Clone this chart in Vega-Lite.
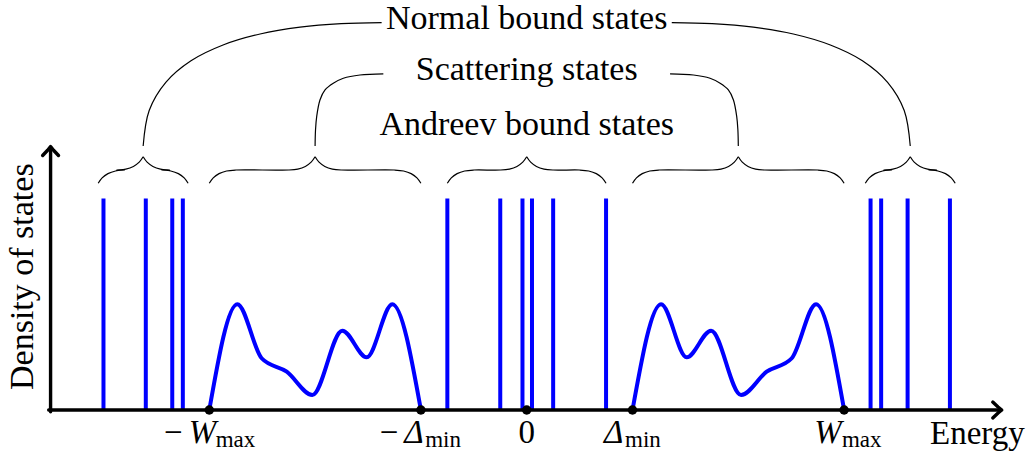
{
  "$schema": "https://vega.github.io/schema/vega-lite/v6.json",
  "width": 1026,
  "height": 454,
  "autosize": {"type": "fit", "contains": "padding"},
  "padding": 0,
  "background": "white",
  "config": {"view": {"stroke": null}, "font": "Liberation Serif"},
  "datasets": {
    "bound": [
      {"E": -4, "D": 2}, {"E": -3.6, "D": 2}, {"E": -3.35, "D": 2}, {"E": -3.25, "D": 2},
      {"E": -0.75, "D": 2}, {"E": -0.25, "D": 2}, {"E": -0.04, "D": 2}, {"E": 0.05, "D": 2},
      {"E": 0.25, "D": 2}, {"E": 0.75, "D": 2},
      {"E": 3.25, "D": 2}, {"E": 3.35, "D": 2}, {"E": 3.6, "D": 2}, {"E": 4, "D": 2}
    ],
    "continuum": [
      {"band": "hole", "E": -3, "D": 0},
      {"band": "hole", "E": -2.735, "D": 1.0},
      {"band": "hole", "E": -2.505, "D": 0.489},
      {"band": "hole", "E": -2.268, "D": 0.362},
      {"band": "hole", "E": -2.026, "D": 0.142},
      {"band": "hole", "E": -1.743, "D": 0.75},
      {"band": "hole", "E": -1.512, "D": 0.498},
      {"band": "hole", "E": -1.27, "D": 1.0},
      {"band": "hole", "E": -1, "D": 0},
      {"band": "particle", "E": 1, "D": 0},
      {"band": "particle", "E": 1.27, "D": 1.0},
      {"band": "particle", "E": 1.512, "D": 0.498},
      {"band": "particle", "E": 1.743, "D": 0.75},
      {"band": "particle", "E": 2.026, "D": 0.142},
      {"band": "particle", "E": 2.268, "D": 0.362},
      {"band": "particle", "E": 2.505, "D": 0.489},
      {"band": "particle", "E": 2.735, "D": 1.0},
      {"band": "particle", "E": 3, "D": 0}
    ],
    "edges": [
      {"E": -3, "D": 0}, {"E": -1, "D": 0}, {"E": 0, "D": 0}, {"E": 1, "D": 0}, {"E": 3, "D": 0}
    ],
    "frame": [
      {"g": "xaxis", "k": 1, "E": -4.518, "D": 0},
      {"g": "xaxis", "k": 2, "E": 4.48, "D": 0},
      {"g": "yaxis", "k": 1, "E": -4.5, "D": -0.017},
      {"g": "yaxis", "k": 2, "E": -4.5, "D": 2.48},
      {"g": "xhead", "k": 1, "E": 4.405, "D": 0.075},
      {"g": "xhead", "k": 2, "E": 4.455, "D": 0.028},
      {"g": "xhead", "k": 3, "E": 4.49, "D": 0},
      {"g": "xhead", "k": 4, "E": 4.455, "D": -0.028},
      {"g": "xhead", "k": 5, "E": 4.405, "D": -0.075},
      {"g": "yhead", "k": 1, "E": -4.575, "D": 2.405},
      {"g": "yhead", "k": 2, "E": -4.528, "D": 2.455},
      {"g": "yhead", "k": 3, "E": -4.5, "D": 2.49},
      {"g": "yhead", "k": 4, "E": -4.472, "D": 2.455},
      {"g": "yhead", "k": 5, "E": -4.425, "D": 2.405}
    ],
    "braces": [
      {"g": "b1l", "k": 1, "E": -4.05, "D": 2.143},
      {"g": "b1l", "k": 2, "E": -4.0127, "D": 2.194},
      {"g": "b1l", "k": 3, "E": -3.9578, "D": 2.234},
      {"g": "b1l", "k": 4, "E": -3.8865, "D": 2.259},
      {"g": "b1l", "k": 5, "E": -3.8, "D": 2.268},
      {"g": "b1l", "k": 6, "E": -3.875, "D": 2.268},
      {"g": "b1l", "k": 7, "E": -3.7885, "D": 2.277},
      {"g": "b1l", "k": 8, "E": -3.7172, "D": 2.302},
      {"g": "b1l", "k": 9, "E": -3.6623, "D": 2.342},
      {"g": "b1l", "k": 10, "E": -3.625, "D": 2.393},
      {"g": "b1r", "k": 1, "E": -3.625, "D": 2.393},
      {"g": "b1r", "k": 2, "E": -3.5877, "D": 2.342},
      {"g": "b1r", "k": 3, "E": -3.5328, "D": 2.302},
      {"g": "b1r", "k": 4, "E": -3.4615, "D": 2.277},
      {"g": "b1r", "k": 5, "E": -3.375, "D": 2.268},
      {"g": "b1r", "k": 6, "E": -3.45, "D": 2.268},
      {"g": "b1r", "k": 7, "E": -3.3635, "D": 2.259},
      {"g": "b1r", "k": 8, "E": -3.2922, "D": 2.234},
      {"g": "b1r", "k": 9, "E": -3.2373, "D": 2.194},
      {"g": "b1r", "k": 10, "E": -3.2, "D": 2.143},

      {"g": "b2l", "k": 1, "E": -3, "D": 2.143},
      {"g": "b2l", "k": 2, "E": -2.9627, "D": 2.194},
      {"g": "b2l", "k": 3, "E": -2.9078, "D": 2.234},
      {"g": "b2l", "k": 4, "E": -2.8365, "D": 2.259},
      {"g": "b2l", "k": 5, "E": -2.75, "D": 2.268},
      {"g": "b2l", "k": 6, "E": -2.25, "D": 2.268},
      {"g": "b2l", "k": 7, "E": -2.1635, "D": 2.277},
      {"g": "b2l", "k": 8, "E": -2.0922, "D": 2.302},
      {"g": "b2l", "k": 9, "E": -2.0373, "D": 2.342},
      {"g": "b2l", "k": 10, "E": -2, "D": 2.393},
      {"g": "b2r", "k": 1, "E": -2, "D": 2.393},
      {"g": "b2r", "k": 2, "E": -1.9627, "D": 2.342},
      {"g": "b2r", "k": 3, "E": -1.9078, "D": 2.302},
      {"g": "b2r", "k": 4, "E": -1.8365, "D": 2.277},
      {"g": "b2r", "k": 5, "E": -1.75, "D": 2.268},
      {"g": "b2r", "k": 6, "E": -1.25, "D": 2.268},
      {"g": "b2r", "k": 7, "E": -1.1635, "D": 2.259},
      {"g": "b2r", "k": 8, "E": -1.0922, "D": 2.234},
      {"g": "b2r", "k": 9, "E": -1.0373, "D": 2.194},
      {"g": "b2r", "k": 10, "E": -1, "D": 2.143},

      {"g": "b3l", "k": 1, "E": -0.75, "D": 2.143},
      {"g": "b3l", "k": 2, "E": -0.7127, "D": 2.194},
      {"g": "b3l", "k": 3, "E": -0.6578, "D": 2.234},
      {"g": "b3l", "k": 4, "E": -0.5865, "D": 2.259},
      {"g": "b3l", "k": 5, "E": -0.5, "D": 2.268},
      {"g": "b3l", "k": 6, "E": -0.25, "D": 2.268},
      {"g": "b3l", "k": 7, "E": -0.1635, "D": 2.277},
      {"g": "b3l", "k": 8, "E": -0.0922, "D": 2.302},
      {"g": "b3l", "k": 9, "E": -0.0373, "D": 2.342},
      {"g": "b3l", "k": 10, "E": 0, "D": 2.393},
      {"g": "b3r", "k": 1, "E": 0, "D": 2.393},
      {"g": "b3r", "k": 2, "E": 0.0373, "D": 2.342},
      {"g": "b3r", "k": 3, "E": 0.0922, "D": 2.302},
      {"g": "b3r", "k": 4, "E": 0.1635, "D": 2.277},
      {"g": "b3r", "k": 5, "E": 0.25, "D": 2.268},
      {"g": "b3r", "k": 6, "E": 0.5, "D": 2.268},
      {"g": "b3r", "k": 7, "E": 0.5865, "D": 2.259},
      {"g": "b3r", "k": 8, "E": 0.6578, "D": 2.234},
      {"g": "b3r", "k": 9, "E": 0.7127, "D": 2.194},
      {"g": "b3r", "k": 10, "E": 0.75, "D": 2.143},

      {"g": "b4l", "k": 1, "E": 1, "D": 2.143},
      {"g": "b4l", "k": 2, "E": 1.0373, "D": 2.194},
      {"g": "b4l", "k": 3, "E": 1.0922, "D": 2.234},
      {"g": "b4l", "k": 4, "E": 1.1635, "D": 2.259},
      {"g": "b4l", "k": 5, "E": 1.25, "D": 2.268},
      {"g": "b4l", "k": 6, "E": 1.75, "D": 2.268},
      {"g": "b4l", "k": 7, "E": 1.8365, "D": 2.277},
      {"g": "b4l", "k": 8, "E": 1.9078, "D": 2.302},
      {"g": "b4l", "k": 9, "E": 1.9627, "D": 2.342},
      {"g": "b4l", "k": 10, "E": 2, "D": 2.393},
      {"g": "b4r", "k": 1, "E": 2, "D": 2.393},
      {"g": "b4r", "k": 2, "E": 2.0373, "D": 2.342},
      {"g": "b4r", "k": 3, "E": 2.0922, "D": 2.302},
      {"g": "b4r", "k": 4, "E": 2.1635, "D": 2.277},
      {"g": "b4r", "k": 5, "E": 2.25, "D": 2.268},
      {"g": "b4r", "k": 6, "E": 2.75, "D": 2.268},
      {"g": "b4r", "k": 7, "E": 2.8365, "D": 2.259},
      {"g": "b4r", "k": 8, "E": 2.9078, "D": 2.234},
      {"g": "b4r", "k": 9, "E": 2.9627, "D": 2.194},
      {"g": "b4r", "k": 10, "E": 3, "D": 2.143},

      {"g": "b5l", "k": 1, "E": 3.2, "D": 2.143},
      {"g": "b5l", "k": 2, "E": 3.2373, "D": 2.194},
      {"g": "b5l", "k": 3, "E": 3.2922, "D": 2.234},
      {"g": "b5l", "k": 4, "E": 3.3635, "D": 2.259},
      {"g": "b5l", "k": 5, "E": 3.45, "D": 2.268},
      {"g": "b5l", "k": 6, "E": 3.375, "D": 2.268},
      {"g": "b5l", "k": 7, "E": 3.4615, "D": 2.277},
      {"g": "b5l", "k": 8, "E": 3.5328, "D": 2.302},
      {"g": "b5l", "k": 9, "E": 3.5877, "D": 2.342},
      {"g": "b5l", "k": 10, "E": 3.625, "D": 2.393},
      {"g": "b5r", "k": 1, "E": 3.625, "D": 2.393},
      {"g": "b5r", "k": 2, "E": 3.6623, "D": 2.342},
      {"g": "b5r", "k": 3, "E": 3.7172, "D": 2.302},
      {"g": "b5r", "k": 4, "E": 3.7885, "D": 2.277},
      {"g": "b5r", "k": 5, "E": 3.875, "D": 2.268},
      {"g": "b5r", "k": 6, "E": 3.8, "D": 2.268},
      {"g": "b5r", "k": 7, "E": 3.8865, "D": 2.259},
      {"g": "b5r", "k": 8, "E": 3.9578, "D": 2.234},
      {"g": "b5r", "k": 9, "E": 4.0127, "D": 2.194},
      {"g": "b5r", "k": 10, "E": 4.05, "D": 2.143},

      {"g": "nL", "k": 1, "E": -3.625, "D": 2.495},
      {"g": "nL", "k": 2, "E": -3.568, "D": 2.831},
      {"g": "nL", "k": 3, "E": -3.411, "D": 3.097},
      {"g": "nL", "k": 4, "E": -3.173, "D": 3.301},
      {"g": "nL", "k": 5, "E": -2.87, "D": 3.45},
      {"g": "nL", "k": 6, "E": -2.52, "D": 3.554},
      {"g": "nL", "k": 7, "E": -2.142, "D": 3.618},
      {"g": "nL", "k": 8, "E": -1.753, "D": 3.651},
      {"g": "nL", "k": 9, "E": -1.371, "D": 3.661},
      {"g": "nR", "k": 1, "E": 1.371, "D": 3.661},
      {"g": "nR", "k": 2, "E": 1.753, "D": 3.651},
      {"g": "nR", "k": 3, "E": 2.142, "D": 3.618},
      {"g": "nR", "k": 4, "E": 2.52, "D": 3.554},
      {"g": "nR", "k": 5, "E": 2.87, "D": 3.45},
      {"g": "nR", "k": 6, "E": 3.173, "D": 3.301},
      {"g": "nR", "k": 7, "E": 3.411, "D": 3.097},
      {"g": "nR", "k": 8, "E": 3.568, "D": 2.831},
      {"g": "nR", "k": 9, "E": 3.625, "D": 2.495},
      {"g": "sL", "k": 1, "E": -2.0, "D": 2.495},
      {"g": "sL", "k": 2, "E": -1.996, "D": 2.647},
      {"g": "sL", "k": 3, "E": -1.985, "D": 2.772},
      {"g": "sL", "k": 4, "E": -1.954, "D": 2.93},
      {"g": "sL", "k": 5, "E": -1.906, "D": 3.025},
      {"g": "sL", "k": 6, "E": -1.828, "D": 3.088},
      {"g": "sL", "k": 7, "E": -1.733, "D": 3.135},
      {"g": "sL", "k": 8, "E": -1.576, "D": 3.166},
      {"g": "sL", "k": 9, "E": -1.355, "D": 3.176},
      {"g": "sR", "k": 1, "E": 1.355, "D": 3.176},
      {"g": "sR", "k": 2, "E": 1.576, "D": 3.166},
      {"g": "sR", "k": 3, "E": 1.733, "D": 3.135},
      {"g": "sR", "k": 4, "E": 1.828, "D": 3.088},
      {"g": "sR", "k": 5, "E": 1.906, "D": 3.025},
      {"g": "sR", "k": 6, "E": 1.954, "D": 2.93},
      {"g": "sR", "k": 7, "E": 1.985, "D": 2.772},
      {"g": "sR", "k": 8, "E": 1.996, "D": 2.647},
      {"g": "sR", "k": 9, "E": 2.0, "D": 2.495}
    ],
    "titles": [
      {"E": 0, "D": 3.598, "t": "Normal bound states"},
      {"E": 0, "D": 3.119, "t": "Scattering states"},
      {"E": 0, "D": 2.599, "t": "Andreev bound states"}
    ],
    "tickUpright": [
      {"E": -3.34, "D": -0.312, "t": "−"},
      {"E": -1.3, "D": -0.312, "t": "−"},
      {"E": 0, "D": -0.312, "t": "0"}
    ],
    "tickItalic": [
      {"E": -3.064, "D": -0.312, "t": "W"},
      {"E": -1.066, "D": -0.312, "t": "Δ"},
      {"E": 0.821, "D": -0.312, "t": "Δ"},
      {"E": 2.848, "D": -0.312, "t": "W"}
    ],
    "tickSub": [
      {"E": -2.752, "D": -0.35, "t": "max"},
      {"E": -0.79, "D": -0.35, "t": "min"},
      {"E": 1.098, "D": -0.35, "t": "min"},
      {"E": 3.166, "D": -0.35, "t": "max"}
    ],
    "xTitle": [{"E": 3.812, "D": -0.321, "t": "Energy"}],
    "yTitle": [{"E": -4.664, "D": 1.26, "t": "Density of states"}]
  },
  "encoding": {
    "x": {"field": "E", "type": "quantitative", "axis": null,
          "scale": {"domain": [-4.978, 4.719], "nice": false, "zero": false}},
    "y": {"field": "D", "type": "quantitative", "axis": null,
          "scale": {"domain": [-0.416, 3.875], "nice": false, "zero": false}}
  },
  "layer": [
    {
      "data": {"name": "bound"},
      "mark": {"type": "rule", "color": "#0000ff", "strokeWidth": 4},
      "encoding": {"y2": {"datum": 0}}
    },
    {
      "data": {"name": "continuum"},
      "mark": {"type": "line", "color": "#0000ff", "strokeWidth": 4, "interpolate": "monotone", "strokeJoin": "round"},
      "encoding": {"detail": {"field": "band"}}
    },
    {
      "data": {"name": "frame"},
      "mark": {"type": "line", "color": "black", "strokeWidth": 3.4, "strokeCap": "round", "strokeJoin": "round"},
      "encoding": {"detail": {"field": "g"}, "order": {"field": "k", "type": "quantitative"}}
    },
    {
      "data": {"name": "edges"},
      "mark": {"type": "point", "filled": true, "color": "black", "opacity": 1, "size": 90, "shape": "circle"}
    },
    {
      "data": {"name": "braces"},
      "mark": {"type": "line", "color": "black", "strokeWidth": 1.2, "interpolate": "catmull-rom"},
      "encoding": {"detail": {"field": "g"}, "order": {"field": "k", "type": "quantitative"}}
    },
    {
      "data": {"name": "titles"},
      "mark": {"type": "text", "fontSize": 34, "align": "center", "baseline": "alphabetic", "color": "black"},
      "encoding": {"text": {"field": "t"}}
    },
    {
      "data": {"name": "tickUpright"},
      "mark": {"type": "text", "fontSize": 33, "align": "center", "baseline": "alphabetic", "color": "black"},
      "encoding": {"text": {"field": "t"}}
    },
    {
      "data": {"name": "tickItalic"},
      "mark": {"type": "text", "fontSize": 33, "fontStyle": "italic", "align": "center", "baseline": "alphabetic", "color": "black"},
      "encoding": {"text": {"field": "t"}}
    },
    {
      "data": {"name": "tickSub"},
      "mark": {"type": "text", "fontSize": 23, "align": "center", "baseline": "alphabetic", "color": "black"},
      "encoding": {"text": {"field": "t"}}
    },
    {
      "data": {"name": "xTitle"},
      "mark": {"type": "text", "fontSize": 33, "align": "left", "baseline": "alphabetic", "color": "black"},
      "encoding": {"text": {"field": "t"}}
    },
    {
      "data": {"name": "yTitle"},
      "mark": {"type": "text", "fontSize": 34, "angle": 270, "align": "center", "baseline": "alphabetic", "color": "black"},
      "encoding": {"text": {"field": "t"}}
    }
  ]
}
